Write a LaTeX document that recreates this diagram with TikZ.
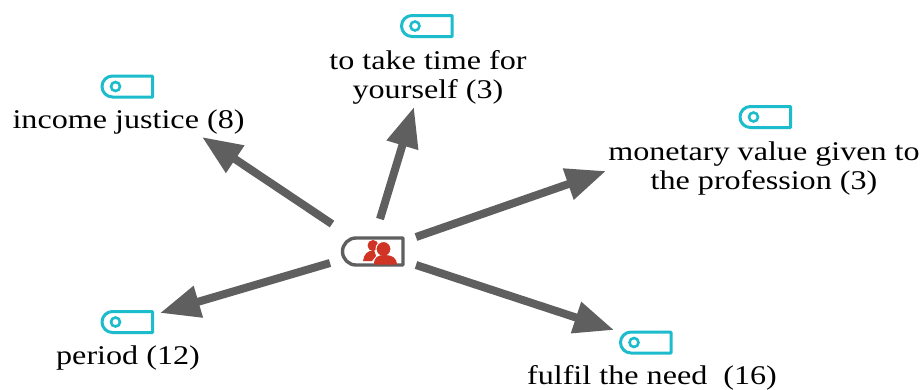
\documentclass[tikz,border=0pt]{standalone}
\usepackage{graphicx}
\usepackage{fontspec}
\setmainfont{Liberation Serif}
\usetikzlibrary{arrows.meta}
\definecolor{tagc}{RGB}{28,188,204}
\definecolor{linkc}{RGB}{95,95,95}
\definecolor{redc}{RGB}{208,52,36}
\tikzset{
 x=1pt,y=-1pt,
 tagbox/.style={minimum width=50pt,minimum height=21pt,inner sep=0pt,outer sep=0pt},
 tagline/.style={draw=tagc,line width=3pt,line join=round},
 lab/.style={font=\fontsize{27}{29}\selectfont,align=center,inner sep=0pt,text=black},
 link/.style={draw=linkc,line width=8pt,-{Triangle[length=40pt,width=31pt]}},
}
\newcommand{\tagicon}[3]{%
 \node[tagbox] (#1) at (#2,#3) {};
 \draw[tagline] (#1.north east) -- ([xshift=10pt]#1.north west) arc[start angle=90,end angle=270,radius=10.5pt] -- (#1.south east) -- cycle;
 \draw[draw=tagc,line width=2.6pt] ([xshift=13pt]#1.west) circle[radius=4.5pt];
}
\newcommand{\wide}[1]{\scalebox{1.19}[1]{#1}}
\begin{document}
\begin{tikzpicture}
\useasboundingbox[fill=white] (0,0) rectangle (922,389);
\tagicon{tA}{127.5}{86.5}
\tagicon{tB}{427}{26}
\tagicon{tC}{765.5}{117}
\tagicon{tD}{127.5}{322}
\tagicon{tE}{646}{342.5}
\node[lab] (lA) at (128.5,122) {\wide{income justice (8)}};
\node[lab] (lB) at (428,77) {\wide{to take time for}\\\wide{yourself (3)}};
\node[lab] (lC) at (764,169) {\wide{monetary value given to}\\\wide{the profession (3)}};
\node[lab] (lD) at (128,358) {\wide{period (12)}};
\node[lab] (lE) at (652,378) {\wide{fulfil the need~~(16)}};
\node[minimum width=60pt,minimum height=27pt,inner sep=0pt,outer sep=0pt] (hub) at (373,251.5) {};
\draw[draw=linkc,line width=3.4pt,line join=round] (hub.north east) -- ([xshift=13pt]hub.north west) arc[start angle=90,end angle=270,radius=13.5pt] -- (hub.south east) -- cycle;
\fill[redc] (373,245.5) circle[radius=5.5pt];
\fill[redc] (363,261) .. controls (364,254) and (367,251) .. (374,250) -- (376,256) -- (372,261) -- cycle;
\fill[draw=white,line width=1pt,fill=redc] (383.5,249) circle[radius=7.5pt];
\fill[redc] (374,264.5) .. controls (374,257) and (378,255) .. (385,255) .. controls (392,255) and (397,258) .. (397,264.5) -- cycle;
\coordinate (sA) at (332,224);
\coordinate (sB) at (380,219);
\coordinate (sC) at (416,237);
\coordinate (sD) at (330,263);
\coordinate (sE) at (416,265);
\coordinate (eA) at (202,137);
\coordinate (eB) at (414,107);
\coordinate (eC) at (606,171);
\coordinate (eD) at (160,313);
\coordinate (eE) at (614,330);
\draw[link] (sA) -- (eA);
\draw[link] (sB) -- (eB);
\draw[link] (sC) -- (eC);
\draw[link] (sD) -- (eD);
\draw[link] (sE) -- (eE);
\end{tikzpicture}
\end{document}
